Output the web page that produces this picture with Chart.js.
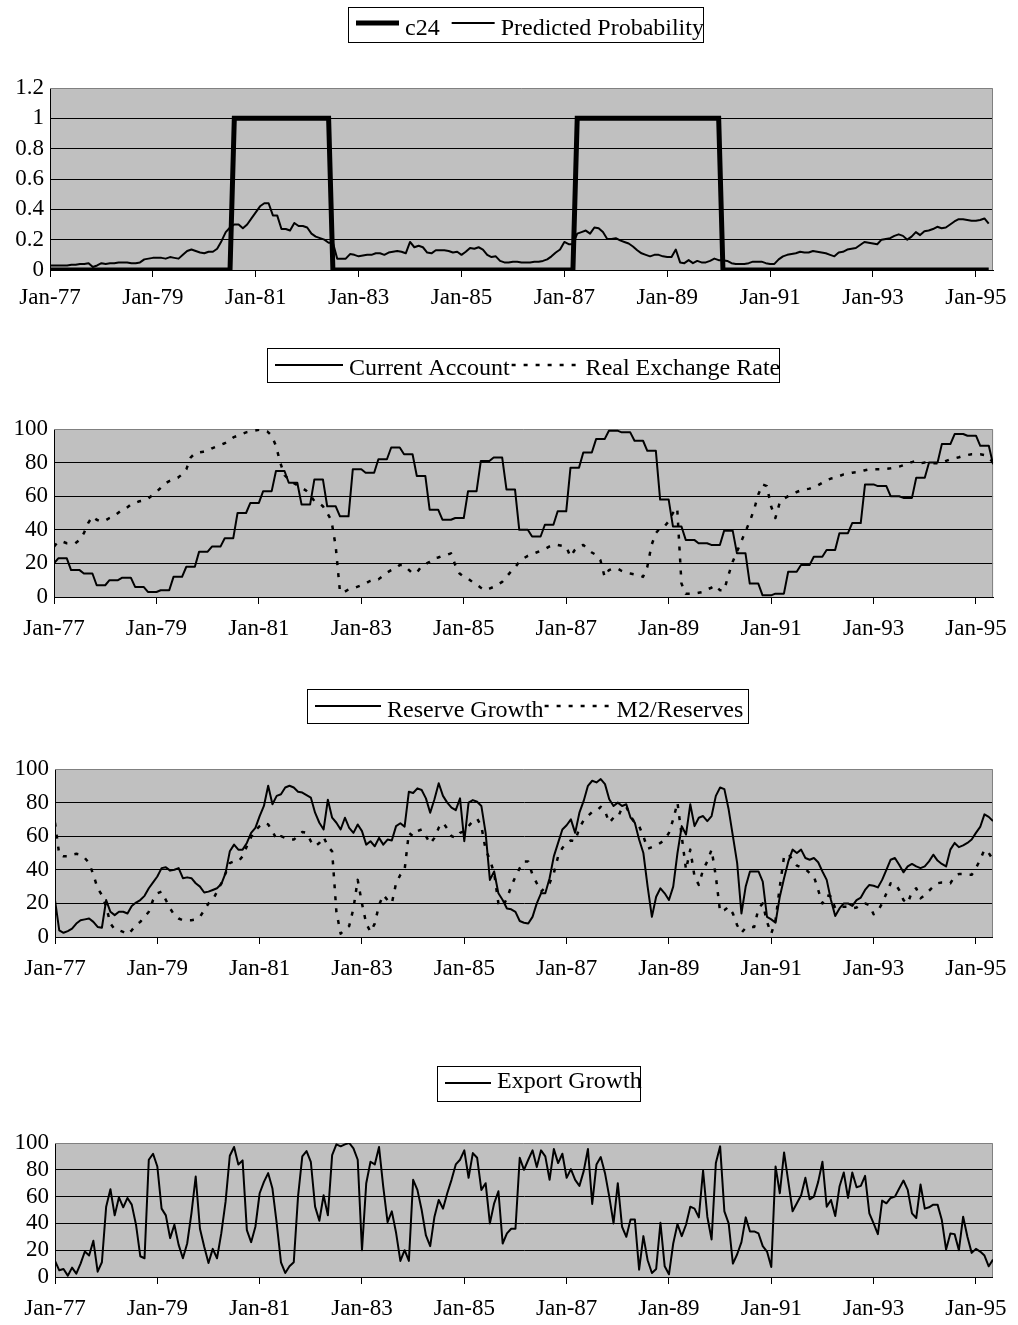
<!DOCTYPE html>
<html>
<head>
<meta charset="utf-8">
<script src="https://cdn.jsdelivr.net/npm/chart.js@4/dist/chart.umd.min.js"></script>
<style>
  body { margin: 0; background: #fff; width: 1018px; height: 1325px; position: relative; overflow: hidden; }
  canvas { position: absolute; left: 0; }
</style>
</head>
<body>
<canvas id="c1" width="1018" height="335" style="top:0px"></canvas>
<canvas id="c2" width="1018" height="320" style="top:340px"></canvas>
<canvas id="c3" width="1018" height="320" style="top:680px"></canvas>
<canvas id="c4" width="1018" height="285" style="top:1040px"></canvas>
<script>
// monthly series, Jan-77 onwards (one row per year)
const xTickLabels = ["Jan-77", "Jan-79", "Jan-81", "Jan-83", "Jan-85", "Jan-87", "Jan-89", "Jan-91", "Jan-93", "Jan-95"];
const probTicks = ["0", "0.2", "0.4", "0.6", "0.8", "1", "1.2"];
const pctTicks = ["0", "20", "40", "60", "80", "100"];

const c24 = [
  0,0,0,0,0,0,0,0,0,0,0,0,
  0,0,0,0,0,0,0,0,0,0,0,0,
  0,0,0,0,0,0,0,0,0,0,0,0,
  0,0,0,0,0,0,0,1,1,1,1,1,
  1,1,1,1,1,1,1,1,1,1,1,1,
  1,1,1,1,1,1,0,0,0,0,0,0,
  0,0,0,0,0,0,0,0,0,0,0,0,
  0,0,0,0,0,0,0,0,0,0,0,0,
  0,0,0,0,0,0,0,0,0,0,0,0,
  0,0,0,0,0,0,0,0,0,0,0,0,
  0,0,0,1,1,1,1,1,1,1,1,1,
  1,1,1,1,1,1,1,1,1,1,1,1,
  1,1,1,1,1,1,1,1,1,1,1,1,
  1,0,0,0,0,0,0,0,0,0,0,0,
  0,0,0,0,0,0,0,0,0,0,0,0,
  0,0,0,0,0,0,0,0,0,0,0,0,
  0,0,0,0,0,0,0,0,0,0,0,0,
  0,0,0,0,0,0,0,0,0,0,0,0,
  0,0,0,0
];
const predictedProb = [
  0.03,0.03,0.03,0.03,0.03,0.035,0.035,0.04,0.04,0.045,0.02,0.03,
  0.045,0.04,0.045,0.045,0.05,0.05,0.05,0.045,0.045,0.05,0.07,0.075,
  0.08,0.08,0.08,0.075,0.085,0.08,0.075,0.1,0.125,0.135,0.125,0.115,
  0.11,0.12,0.12,0.14,0.19,0.25,0.28,0.3,0.3,0.275,0.3,0.34,
  0.38,0.42,0.44,0.44,0.36,0.36,0.27,0.27,0.26,0.31,0.29,0.29,
  0.28,0.24,0.22,0.21,0.2,0.18,0.18,0.075,0.075,0.075,0.105,0.1,
  0.09,0.095,0.1,0.1,0.11,0.11,0.1,0.115,0.12,0.125,0.12,0.11,
  0.185,0.15,0.16,0.15,0.115,0.11,0.13,0.13,0.13,0.125,0.115,0.12,
  0.1,0.12,0.145,0.14,0.15,0.135,0.1,0.085,0.09,0.06,0.05,0.05,
  0.055,0.055,0.05,0.05,0.05,0.055,0.055,0.06,0.07,0.09,0.115,0.135,
  0.185,0.17,0.17,0.24,0.25,0.26,0.24,0.28,0.275,0.25,0.205,0.205,
  0.21,0.195,0.185,0.175,0.155,0.13,0.11,0.1,0.09,0.1,0.1,0.09,
  0.085,0.085,0.135,0.05,0.045,0.065,0.045,0.06,0.05,0.05,0.06,0.075,
  0.065,0.065,0.06,0.045,0.04,0.04,0.04,0.045,0.055,0.055,0.055,0.045,
  0.04,0.04,0.07,0.09,0.1,0.105,0.11,0.12,0.115,0.115,0.125,0.12,
  0.115,0.11,0.1,0.09,0.115,0.12,0.135,0.14,0.145,0.165,0.185,0.18,
  0.175,0.17,0.2,0.205,0.21,0.225,0.235,0.225,0.2,0.22,0.25,0.23,
  0.255,0.26,0.27,0.285,0.275,0.28,0.3,0.32,0.335,0.335,0.33,0.325,
  0.325,0.33,0.34,0.305
];
const currentAccount = [
  20,23,23,23,16,16,16,14,14,14,7,7,
  7,10,10,10,11.5,11.5,11.5,6,6,6,3,3,
  3,4,4,4,12,12,12,18,18,18,27,27,
  27,30,30,30,35,35,35,50,50,50,56,56,
  56,63,63,63,75,75,75,68,68,68,55,55,
  55,70,70,70,54,54,54,48,48,48,76,76,
  76,74,74,74,82,82,82,89,89,89,85,85,
  85,72,72,72,52,52,52,46,46,46,47,47,
  47,63,63,63,81,81,81,83,83,83,64,64,
  64,40,40,40,36,36,36,43,43,43,51,51,
  51,77,77,77,86,86,86,94,94,94,99,99,
  99,98,98,98,93,93,93,87,87,87,58,58,
  58,42,42,42,34,34,34,32,32,32,31,31,
  31,39.5,39.5,39.5,26,26,26,8,8,8,1,1,
  1,2,2,2,15,15,15,19,19,19,24,24,
  24,28,28,28,38,38,38,44,44,44,67,67,
  67,66,66,66,60,60,60,59,59,59,71,71,
  71,80,80,80,91,91,91,97,97,97,96,96,
  96,90,90,90,79
];
const realExchangeRate = [
  30,33,33,32,32,32,34,38,44,48,46,45,
  45.5,47,48,50,52,53,55,56,57,57.5,58.5,60.5,
  62.5,65,67.5,69,70,71,73,76,83,85.5,86,86.5,
  87,88.5,89.5,90.5,91.5,93,95,96,97,98,98.5,99,
  99.5,99.5,98.5,96,90,80,72.5,70,68,66.5,65,63.5,
  61,57,56,54,50,45.5,30,3,3,4.5,5,6,
  7,8,9.5,10.5,10.5,12.5,14.5,16,17,19,19,16.5,
  14,14.5,18,19.5,21,23,23.5,24.5,25,26,19,14,
  12,11,9,7.5,5.5,4,5,6,7.5,9,12,15,
  17.5,21,23,24.5,25.5,26.5,27.5,28.5,30,31,31,30.5,
  30,24,28,30,31,28.5,26.5,25,22,12,16,17,
  17,15.5,14.5,14,13.5,13,12,18,31,38,41,42,
  45,50,53,8,2,2,2,2.5,3,4.5,5.5,7,
  4,4,13,21,27,33,39,45,52,61,67,66,
  54,47,56,58.5,60,61,62.5,63.5,64,64.5,65.5,66.5,
  68,69.5,70.5,71,72,73,73.5,74,74.3,74.6,75.5,76,
  76,76,76,76.3,76.6,77,77.6,78.5,79.6,80.3,81,79.6,
  80,80,79.6,79.6,80,81,82,82.5,83.2,84,84.5,85,
  85,85,84.5,83,80
];
const reserveGrowth = [
  22,4,2.5,3.5,5,8,10,10.5,11,9,6,5.5,
  22,15,13,15,15,14,18.5,20.5,22,24.5,29,32.5,
  36,41,41.5,39.5,40,41,35,35.5,35,32,30,26.5,
  27,28,29,31.5,38,51,55,52,52,56,62,65,
  72,78,90,79,84,85,89,90,89,86.5,86,84.5,
  83,74,68,64,81.7,71,68,64,71,65,62,67,
  63,55,57,54,59,55,58,57.5,66,67.7,65.7,86.5,
  85.7,88.5,87.5,82.5,74,82,91.5,84,80,77,75.5,82.5,
  57,80,81.5,80.5,78,62,34,39,26,22,17,16.5,
  15,9.5,8.5,8,12,20,26,26,35,48,56,64,
  66.5,70,62,74,81,90,93,92,94,91,82,78,
  80,78,79,71,68,58,50,30,12,24,29,26,
  22,30,50,66,61,79,66,71,72,69,72,84,
  89,88,76,60,44,14,30,39,39,39,33,12,
  10.5,8.5,24,35,45,52,50,52,47,46,47,44.5,
  39,34,22,12.5,17,20,20,18.5,22,23.5,28,31,
  30.5,29.5,34,40,46,47,43,38.5,42,43.5,42,41,
  42,45,49,45.5,43.5,42,52,56,53.5,54.5,56,58,
  62,65.5,73,71.5,69
];
const m2Reserves = [
  68,49,48,48,49,49.5,49,47,44,37,29,25,
  18,8,4.5,4,3,1.5,4,7,9,12,15,22,
  26,27,22,17,13,11,10,10,10,10.4,12,16,
  20,22,27,32,38,44,45,45,48,54,59.5,63.5,
  66,68,67,63,58,60,59,58,58,60,62.5,62,
  57,54,56,59.5,54,51,15,2,4.5,6.5,17,34,
  20,8,3,8,19,25,22,20,32,37,40,62,
  60,63,64,60,55.5,59,65,68,64.5,60,59,62,
  63,66,69,70.5,66,52,46,38,20,18,23,30,
  36,41,45,45,37,32,27,29.5,32,38,48,53,
  56,57.5,57,65,69.5,72,74.5,75,77.5,75,68,71,
  71,77,77.5,72,68,66,60,52.5,53.5,54.5,56,58,
  62,70,80,60,40,52,36,31,40,45,52,36,
  15,16,18,14,7,2.5,5.5,6,6,17,20,9,
  2,10,30,48,49.5,46,42.5,41.5,40.5,38,36,28,
  20,25,24,17,18,18,18,17,17.5,19.5,20,19,
  13.5,15.5,20,26,32,32,28,22,20,27,29,23,
  25,27.5,30,32,32.5,32.5,32,36,37.5,37.5,37,37,
  41,46,52,50,46
];
const exportGrowth = [
  12,5,6,1,7,2.5,10,19,16,27,4,11,
  52.5,65.5,46,59.5,52,59,54,39,15.5,14,87.5,92,
  82.5,51,46,29,39,24,14,25,47.5,75,36,22.5,
  10.5,21,14,32.5,56,90.5,97,84,87,35,26,37.5,
  62.5,71,77.5,66,40,11,3,8,11,60,90,94,
  86,52.5,42,61,46,91,99,97.5,99,100,96,87.5,
  20,70,86,84,97,67,41,49,33,12,20,12,
  72.5,65,50,31,23,45,57.5,51,62.5,72.5,84,87.5,
  94.5,74,92.5,89,65,70,40,55,64,25,32.5,36,
  36,89,80,87.5,94.5,82,94.5,90,72.5,95.5,85,92,
  74,80.5,72.5,68,79,95.5,54.5,84,89.5,77.5,60,40,
  70,37.5,30,43,43,5.5,30.5,12.5,3,6,40.5,8,
  2,25,39.5,30.5,39,52.5,51,44.5,79.5,45,28,85,
  97.5,49,40,10,17,26,44.5,34,34,32.5,23,19,
  7.5,82.5,62.5,93,71,49,55,61,74,58,60,71,
  86,52.5,57.5,45.5,67.5,78,59,78,67,68,75.5,47.5,
  40,32,57,55,59,60,66,72,65,47.5,44,69,
  51,52,54,54,42.5,20.5,32.5,32,20,45,30,18,
  21,19,16,8,13
];

Chart.defaults.font.family = '"Liberation Serif", "Times New Roman", serif';
Chart.defaults.font.size = 23;
Chart.defaults.color = '#000';

const DOTS = [4, 8];

function series(label, values, width, dash) {
  return {
    label: label,
    data: values.map((v, i) => ({ x: i, y: v })),
    borderColor: '#000',
    borderWidth: width,
    borderDash: dash || [],
    borderJoinStyle: width > 3 ? 'miter' : 'round',
    pointRadius: 0,
    tension: 0,
    fill: false
  };
}

// grey plot area with a grey frame on top and right
const plotBg = {
  id: 'plotBg',
  beforeDraw(chart) {
    const a = chart.chartArea, ctx = chart.ctx;
    ctx.save();
    ctx.fillStyle = '#c0c0c0';
    ctx.fillRect(a.left, a.top, a.right - a.left, a.bottom - a.top);
    ctx.restore();
  },
  beforeDatasetsDraw(chart) {
    const a = chart.chartArea, ctx = chart.ctx;
    ctx.save();
    ctx.strokeStyle = '#808080';
    ctx.lineWidth = 1;
    ctx.beginPath();
    ctx.moveTo(a.left, a.top + 0.5);
    ctx.lineTo(a.right - 0.5, a.top + 0.5);
    ctx.lineTo(a.right - 0.5, a.bottom);
    ctx.stroke();
    ctx.restore();
  }
};

// Excel style legend in a framed box
const boxLegend = {
  id: 'boxLegend',
  afterDraw(chart, args, o) {
    const ctx = chart.ctx;
    ctx.save();
    ctx.font = '24px "Liberation Serif", "Times New Roman", serif';
    ctx.fillStyle = '#000';
    ctx.textBaseline = 'alphabetic';
    let x = o.box[0] + 8;
    chart.data.datasets.forEach(ds => {
      ctx.beginPath();
      ctx.setLineDash(ds.borderDash);
      ctx.lineWidth = ds.borderWidth;
      ctx.strokeStyle = '#000';
      ctx.moveTo(x, o.lineY);
      ctx.lineTo(x + o.sampleW, o.lineY);
      ctx.stroke();
      x += o.sampleW + 6;
      ctx.fillText(ds.label, x, o.base);
      x += ctx.measureText(ds.label).width + o.gap;
    });
    ctx.setLineDash([]);
    ctx.lineWidth = 1;
    ctx.strokeStyle = '#000';
    const b = o.box;
    ctx.strokeRect(b[0] + 0.5, b[1] + 0.5, b[2] - b[0], b[3] - b[1]);
    ctx.restore();
  }
};

const panels = [
  { id: 'c1', h: 335, left: 50, right: 993, top: 88, bottom: 270, ymax: 1.2, ystep: 0.2, yLabels: probTicks, xPad: 7,
    legend: { box: [348, 7, 703, 42], base: 35, lineY: 23, sampleW: 43, gap: 12 },
    datasets: [series('c24', c24, 5), series('Predicted Probability', predictedProb, 2)] },
  { id: 'c2', h: 320, left: 54, right: 999, top: 89, bottom: 257, ymax: 100, ystep: 20, yLabels: pctTicks, xPad: 11,
    legend: { box: [267, 8, 779, 42], base: 35, lineY: 25, sampleW: 68, gap: 2 },
    datasets: [series('Current Account', currentAccount, 2), series('Real Exchange Rate', realExchangeRate, 2.5, DOTS)] },
  { id: 'c3', h: 320, left: 55, right: 995, top: 89, bottom: 257, ymax: 100, ystep: 20, yLabels: pctTicks, xPad: 11,
    legend: { box: [307, 9, 748, 43], base: 37, lineY: 26, sampleW: 66, gap: 1 },
    datasets: [series('Reserve Growth', reserveGrowth, 2), series('M2/Reserves', m2Reserves, 2.5, DOTS)] },
  { id: 'c4', h: 285, left: 55, right: 996, top: 103, bottom: 237, ymax: 100, ystep: 20, yLabels: pctTicks, xPad: 11,
    legend: { box: [437, 26, 640, 61], base: 48, lineY: 43, sampleW: 46, gap: 8 },
    datasets: [series('Export Growth', exportGrowth, 2)] }
];

panels.forEach(p => {
  new Chart(document.getElementById(p.id), {
    type: 'line',
    data: { datasets: p.datasets },
    plugins: [plotBg, boxLegend],
    options: {
      responsive: false,
      animation: false,
      devicePixelRatio: 1,
      layout: { padding: { top: p.top, right: 1018 - p.right, left: 0, bottom: 0 } },
      plugins: { legend: { display: false }, tooltip: { enabled: false }, boxLegend: p.legend },
      scales: {
        x: {
          type: 'linear', min: 0, max: 220,
          ticks: { stepSize: 24, includeBounds: false, autoSkip: false, maxRotation: 0, padding: p.xPad,
                   callback: v => xTickLabels[Math.round(v / 24)] },
          grid: { drawOnChartArea: false, drawTicks: true, tickLength: 7, color: '#000' },
          border: { color: '#000', width: 1 },
          afterFit: s => { s.height = p.h - p.bottom; }
        },
        y: {
          min: 0, max: p.ymax,
          ticks: { stepSize: p.ystep, autoSkip: false, padding: 6,
                   callback: v => p.yLabels[Math.round(v / p.ystep)] },
          grid: { drawTicks: false, lineWidth: 1,
                  color: c => (c.tick && c.tick.value >= p.ymax - 1e-9) ? 'rgba(0,0,0,0)' : '#000' },
          border: { color: '#000', width: 1 },
          afterFit: s => { s.width = p.left; }
        }
      }
    }
  });
});
</script>
</body>
</html>
